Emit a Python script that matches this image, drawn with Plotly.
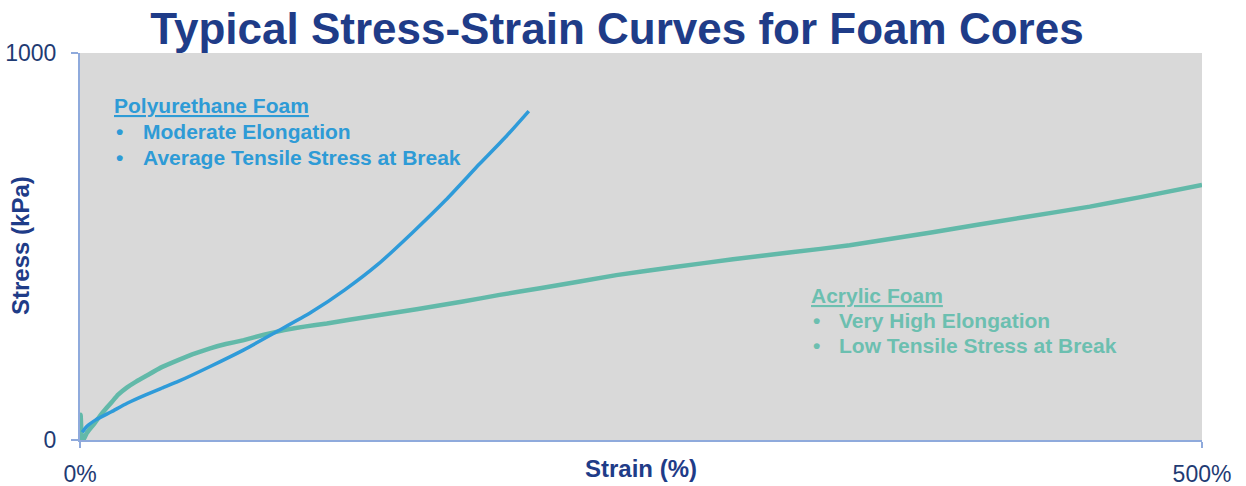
import plotly.graph_objects as go

# Polyurethane foam curve (strain %, stress kPa)
pu_strain = [1, 3, 7, 14, 21, 29, 36, 44, 58, 73, 88, 103, 118, 133, 148, 163, 178, 190, 200]
pu_stress = [20, 35, 52, 73, 95, 116, 133, 152, 190, 233, 281, 330, 388, 455, 535, 620, 713, 785, 850]

# Acrylic foam curve (strain %, stress kPa)
ac_strain = [0, 0.3, 0.8, 1.5, 3, 5, 6.5, 9, 12, 14, 17, 21, 25, 29, 36, 44, 50, 58, 65, 73, 82,
             91, 100, 110, 130, 150, 170, 187, 205, 239, 265, 291, 317, 343, 380, 420, 450, 472, 500]
ac_stress = [0, 65, 5, 0, 18, 33, 43, 63, 84, 97, 117, 136, 151, 164, 187, 207, 221, 237, 248, 258, 272,
             284, 293, 301, 320, 338, 357, 375, 392, 426, 447, 467, 485, 503, 537, 575, 603, 627, 659]

x_ticks = [0, 500]
x_ticktext = ["0%", "500%"]
y_ticks = [0, 1000]
y_ticktext = ["0", "1000"]

title_text = "Typical Stress-Strain Curves for Foam Cores"
pu_lines = ["Moderate Elongation", "Average Tensile Stress at Break"]
ac_lines = ["Very High Elongation", "Low Tensile Stress at Break"]

FONT = "Liberation Sans, Arial, sans-serif"
NAVY = "#1F3C88"
TICK = "#1F3B73"
BLUE = "#2F9BD9"
TEAL = "#62B9A9"
BLUE_TXT = "#2E9BD6"
TEAL_TXT = "#6CBFB0"
AXIS = "#8FAADC"

fig = go.Figure()
fig.add_trace(go.Scatter(x=ac_strain, y=ac_stress, mode="lines",
                         line=dict(color=TEAL, width=4.5, shape="spline", smoothing=0.3),
                         showlegend=False, hoverinfo="skip"))
fig.add_trace(go.Scatter(x=pu_strain, y=pu_stress, mode="lines",
                         line=dict(color=BLUE, width=3.5, shape="spline", smoothing=0.5),
                         showlegend=False, hoverinfo="skip"))

W, H = 1246, 486
L, R, T, B = 80, 44, 53, 46
pw, ph = W - L - R, H - T - B

def px(xp):
    return (xp - L) / pw

def py(yp):
    return (H - B - yp) / ph

TS = 21
ann = []
# Polyurethane block
ann.append(dict(x=px(112), y=py(106), text="<b><u>Polyurethane Foam</u></b>",
                font=dict(size=TS, color=BLUE_TXT, family=FONT)))
for i, t in enumerate(pu_lines):
    yy = py(131 + 26 * i)
    ann.append(dict(x=px(114), y=yy, text="<b>•</b>", font=dict(size=TS, color=BLUE_TXT, family=FONT)))
    ann.append(dict(x=px(141), y=yy, text="<b>" + t + "</b>", font=dict(size=TS, color=BLUE_TXT, family=FONT)))
# Acrylic block
ann.append(dict(x=px(809), y=py(295), text="<b><u>Acrylic Foam</u></b>",
                font=dict(size=TS, color=TEAL_TXT, family=FONT)))
for i, t in enumerate(ac_lines):
    yy = py(320 + 25 * i)
    ann.append(dict(x=px(811), y=yy, text="<b>•</b>", font=dict(size=TS, color=TEAL_TXT, family=FONT)))
    ann.append(dict(x=px(837), y=yy, text="<b>" + t + "</b>", font=dict(size=TS, color=TEAL_TXT, family=FONT)))
for a in ann:
    a.update(xref="paper", yref="paper", xanchor="left", yanchor="middle", showarrow=False)

# Axis titles
ann.append(dict(x=px(641), y=py(468), xref="paper", yref="paper", text="<b>Strain (%)</b>",
                showarrow=False, xanchor="center", yanchor="middle",
                font=dict(size=24, color=NAVY, family=FONT)))
ann.append(dict(x=px(21), y=py(246), xref="paper", yref="paper", text="<b>Stress (kPa)</b>",
                showarrow=False, xanchor="center", yanchor="middle", textangle=-90,
                font=dict(size=24, color=NAVY, family=FONT)))

fig.update_layout(
    width=W, height=H,
    margin=dict(l=L, r=R, t=T, b=B, pad=0, autoexpand=False),
    paper_bgcolor="white",
    plot_bgcolor="#D9D9D9",
    title=dict(text="<b>" + title_text + "</b>", x=617 / W, xref="container", xanchor="center",
               y=1 - 29 / H, yref="container", yanchor="middle",
               font=dict(size=44, color=NAVY, family=FONT)),
    annotations=ann,
    showlegend=False,
)
fig.update_xaxes(range=[0, 500], tickvals=x_ticks, ticktext=x_ticktext, automargin=False,
                 showgrid=False, zeroline=False, showline=True, linecolor=AXIS, linewidth=2,
                 ticks="outside", ticklen=6, tickwidth=2, tickcolor=AXIS,
                 tickfont=dict(size=23, color=TICK, family=FONT), ticklabelstandoff=6)
fig.update_yaxes(range=[0, 1000], tickvals=y_ticks, ticktext=y_ticktext, automargin=False,
                 showgrid=False, zeroline=False, showline=True, linecolor=AXIS, linewidth=2,
                 ticks="outside", ticklen=7, tickwidth=2, tickcolor=AXIS,
                 tickfont=dict(size=23, color=TICK, family=FONT), ticklabelstandoff=10)

fig.write_html("out.html")
